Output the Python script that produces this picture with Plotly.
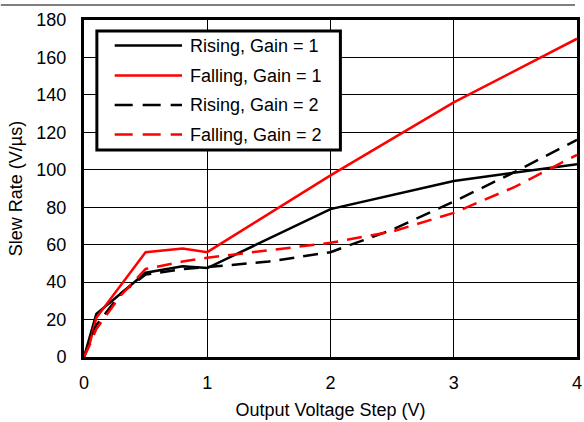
import plotly.graph_objects as go

# ---- data ----
x_gain1 = [0, 0.05, 0.1, 0.5, 0.8, 1, 2, 3, 4]
rising_gain1 = [0, 11, 23, 45, 48.5, 47.5, 79, 94, 103]
falling_gain1 = [0, 8, 21, 56, 58, 56, 97, 136, 170]

x_gain2 = [0, 0.05, 0.1, 0.3, 0.5, 0.8, 1, 1.5, 2, 2.5, 3, 3.5, 4]
rising_gain2 = [0, 8, 17, 34, 44, 47, 48, 51, 56, 68, 83, 99, 116]
falling_gain2 = [0, 7, 15, 33, 47, 51, 53, 57, 61, 67, 77, 91, 108]

series_names = ["Rising, Gain = 1", "Falling, Gain = 1", "Rising, Gain = 2", "Falling, Gain = 2"]
series_colors = ["#000000", "#ff0000", "#000000", "#ff0000"]
series_dash = ["solid", "solid", "15px,9px", "15px,9px"]

x_ticks = [0, 1, 2, 3, 4]
y_ticks = [0, 20, 40, 60, 80, 100, 120, 140, 160, 180]

FONT = "Liberation Sans, Arial, Helvetica, sans-serif"
FS = 18
LW = 2.5

fig = go.Figure()
xs = [x_gain1, x_gain1, x_gain2, x_gain2]
ys = [rising_gain1, falling_gain1, rising_gain2, falling_gain2]
for i in range(4):
    fig.add_trace(go.Scatter(
        x=xs[i], y=ys[i], mode="lines", name=series_names[i],
        line=dict(color=series_colors[i], width=LW, dash=series_dash[i]),
        showlegend=False, hoverinfo="skip"))

W, H = 584, 422
ml, mr, mt, mb = 84, 2, 20, 65
pw, ph = W - ml - mr, H - mt - mb

def px_x(p):
    return (p - ml) / pw

def px_y(p):
    return (H - mb - p) / ph

shapes = []
annotations = []
# top rule line
shapes.append(dict(type="line", xref="paper", yref="paper",
                   x0=px_x(0), x1=px_x(580), y0=px_y(5), y1=px_y(5),
                   line=dict(color="black", width=1.2)))
# manual legend box
shapes.append(dict(type="rect", xref="paper", yref="paper",
                   x0=px_x(97), x1=px_x(343), y0=px_y(150), y1=px_y(31),
                   fillcolor="white", line=dict(color="black", width=3), layer="above"))
row_y = [45.5, 75.5, 105, 134.5]
for i in range(4):
    shapes.append(dict(type="line", xref="paper", yref="paper",
                       x0=px_x(115), x1=px_x(183), y0=px_y(row_y[i]), y1=px_y(row_y[i]),
                       line=dict(color=series_colors[i], width=LW,
                                 dash=("solid" if series_dash[i] == "solid" else "18px,10px")),
                       layer="above"))
    annotations.append(dict(xref="paper", yref="paper", x=px_x(189), y=px_y(row_y[i]),
                            text=series_names[i], showarrow=False, xanchor="left",
                            yanchor="middle",
                            font=dict(family=FONT, size=FS, color="black")))

fig.update_layout(
    width=W, height=H,
    margin=dict(l=ml, r=mr, t=mt, b=mb),
    paper_bgcolor="white", plot_bgcolor="white",
    font=dict(family=FONT, size=FS, color="black"),
    shapes=shapes, annotations=annotations,
    showlegend=False,
)
fig.update_xaxes(
    range=[0, 4], tickvals=x_ticks, ticktext=[str(v) for v in x_ticks],
    showgrid=True, gridcolor="black", gridwidth=1, zeroline=False,
    showline=True, linecolor="black", linewidth=3, mirror=True,
    ticks="", ticklabelstandoff=7, ticklabeloverflow="allow",
    title=dict(text="Output Voltage Step (V)", font=dict(size=FS), standoff=12),
)
fig.update_yaxes(
    range=[0, 180], tickvals=y_ticks, ticktext=[str(v) for v in y_ticks],
    showgrid=True, gridcolor="black", gridwidth=1, zeroline=False,
    showline=True, linecolor="black", linewidth=3, mirror=True,
    ticks="", ticklabelstandoff=11,
    title=dict(text="Slew Rate (V/µs)", font=dict(size=FS), standoff=10),
)

fig.write_html("out.html", config={"displayModeBar": False},
               post_script="document.body.style.margin='0';")
